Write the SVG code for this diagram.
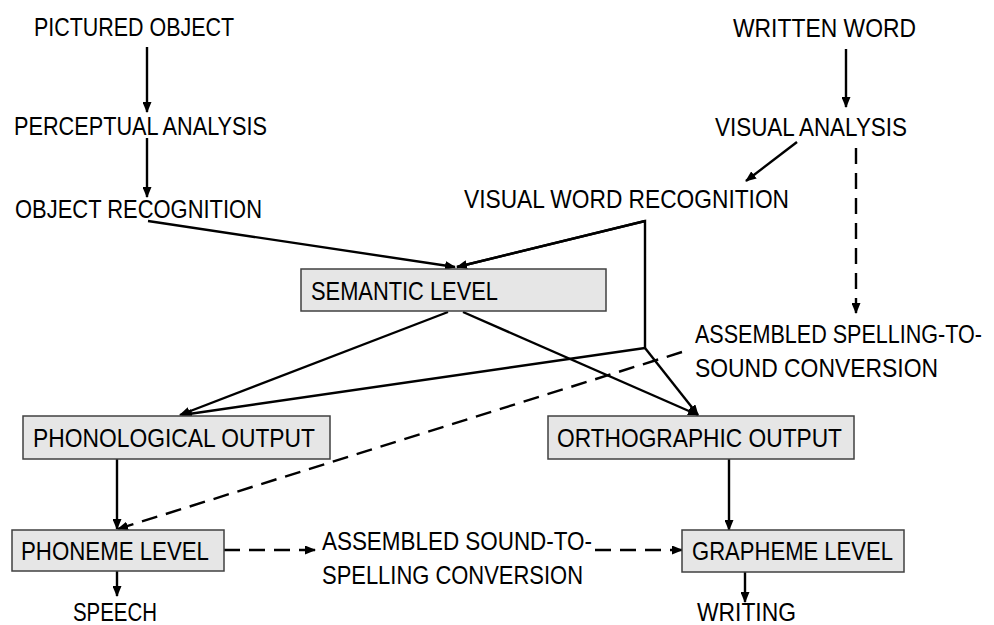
<svg xmlns="http://www.w3.org/2000/svg" width="994" height="625" viewBox="0 0 994 625">
<defs>
<marker id="ah" markerUnits="userSpaceOnUse" markerWidth="11" markerHeight="9" refX="10" refY="4.5" orient="auto">
<path d="M0,0 L11,4.5 L0,9 z" fill="#000"/>
</marker>
<style>
text{font-family:"Liberation Sans",Arial,sans-serif;font-size:25px;fill:#000}
.box{fill:#e6e6e6;stroke:#404040;stroke-width:1.5}
.c{fill:none;stroke:#000;stroke-width:2.4}
.a{marker-end:url(#ah)}
.d{stroke-dasharray:16 9}
</style>
</defs>
<rect width="994" height="625" fill="#fff"/>
<g id="connectors">
<line class="c a" x1="147" y1="47" x2="147" y2="112"/>
<line class="c a" x1="147" y1="138" x2="147" y2="197"/>
<line class="c a" x1="148" y1="221" x2="455" y2="267"/>
<line class="c a" x1="846" y1="49" x2="846" y2="107"/>
<line class="c a" x1="797" y1="142" x2="746" y2="181"/>
<line class="c a d" x1="856" y1="148" x2="856" y2="313"/>
<polyline class="c" points="645,348 645,221 457,267"/>
<line class="c a" x1="645" y1="221" x2="457" y2="267"/>
<line class="c a" x1="645" y1="348" x2="182" y2="415"/>
<line class="c a" x1="645" y1="348" x2="698" y2="415"/>
<line class="c a" x1="448" y1="312" x2="180" y2="415"/>
<line class="c a" x1="463" y1="312" x2="698" y2="415"/>
<line class="c a d" x1="682" y1="352" x2="118" y2="529"/>
<line class="c a" x1="117" y1="459" x2="117" y2="529"/>
<line class="c a" x1="117" y1="571" x2="117" y2="596"/>
<line class="c a d" x1="224" y1="550" x2="315" y2="550"/>
<line class="c a d" x1="595" y1="550" x2="682" y2="550"/>
<line class="c a" x1="729" y1="459" x2="729" y2="530"/>
<line class="c a" x1="745" y1="572" x2="745" y2="602"/>
</g>
<g id="pictured-object"><text x="34" y="36" textLength="200" lengthAdjust="spacingAndGlyphs">PICTURED OBJECT</text></g>
<g id="perceptual-analysis"><text x="14" y="135" textLength="253" lengthAdjust="spacingAndGlyphs">PERCEPTUAL ANALYSIS</text></g>
<g id="object-recognition"><text x="15" y="218" textLength="247" lengthAdjust="spacingAndGlyphs">OBJECT RECOGNITION</text></g>
<g id="written-word"><text x="733" y="37" textLength="183" lengthAdjust="spacingAndGlyphs">WRITTEN WORD</text></g>
<g id="visual-analysis"><text x="715" y="136" textLength="192" lengthAdjust="spacingAndGlyphs">VISUAL ANALYSIS</text></g>
<g id="visual-word-recognition"><text x="464" y="208" textLength="325" lengthAdjust="spacingAndGlyphs">VISUAL WORD RECOGNITION</text></g>
<g id="semantic-level"><rect class="box" x="301" y="269" width="305" height="42"/><text x="311" y="300" textLength="187" lengthAdjust="spacingAndGlyphs">SEMANTIC LEVEL</text></g>
<g id="spelling-to-sound"><text x="695" y="343" textLength="287" lengthAdjust="spacingAndGlyphs">ASSEMBLED SPELLING-TO-</text><text x="695" y="377" textLength="243" lengthAdjust="spacingAndGlyphs">SOUND CONVERSION</text></g>
<g id="phonological-output"><rect class="box" x="23" y="416" width="307" height="43"/><text x="33" y="447" textLength="282" lengthAdjust="spacingAndGlyphs">PHONOLOGICAL OUTPUT</text></g>
<g id="orthographic-output"><rect class="box" x="548" y="416" width="306" height="43"/><text x="557" y="447" textLength="285" lengthAdjust="spacingAndGlyphs">ORTHOGRAPHIC OUTPUT</text></g>
<g id="phoneme-level"><rect class="box" x="12" y="530" width="212" height="41"/><text x="21" y="560" textLength="188" lengthAdjust="spacingAndGlyphs">PHONEME LEVEL</text></g>
<g id="sound-to-spelling"><text x="322" y="550" textLength="270" lengthAdjust="spacingAndGlyphs">ASSEMBLED SOUND-TO-</text><text x="322" y="584" textLength="261" lengthAdjust="spacingAndGlyphs">SPELLING CONVERSION</text></g>
<g id="grapheme-level"><rect class="box" x="682" y="530" width="222" height="42"/><text x="692" y="560" textLength="201" lengthAdjust="spacingAndGlyphs">GRAPHEME LEVEL</text></g>
<g id="speech"><text x="73" y="621" textLength="84" lengthAdjust="spacingAndGlyphs">SPEECH</text></g>
<g id="writing"><text x="697" y="621" textLength="99" lengthAdjust="spacingAndGlyphs">WRITING</text></g>
</svg>
